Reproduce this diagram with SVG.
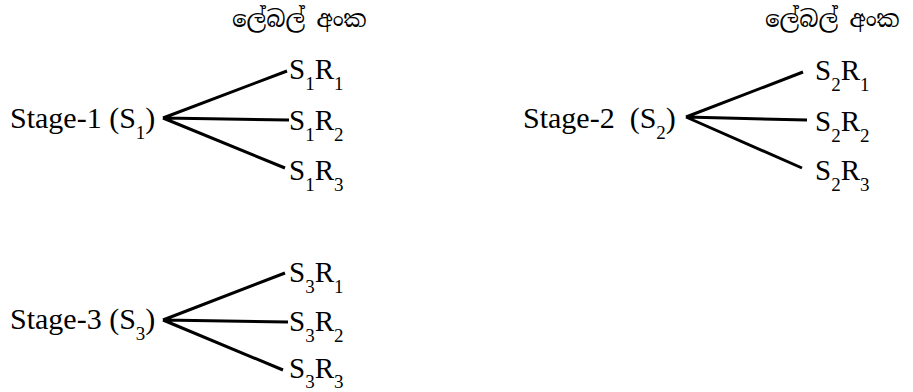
<svg xmlns="http://www.w3.org/2000/svg" width="913" height="392" viewBox="0 0 913 392">
<style>
.t{font-family:'Liberation Serif','Times New Roman',serif;font-size:30px;fill:#000}
.l{font-family:'Liberation Serif','Times New Roman',serif;font-size:29px;fill:#000}
.sub{font-size:19px}
.si{font-family:'Noto Serif Sinhala','Noto Sans Sinhala','Iskoola Pota',serif;font-size:23px;fill:#000}
.c{stroke:#000;stroke-width:3;fill:none;stroke-linecap:butt}
</style>
<rect width="913" height="392" fill="#fff"/>
<g id="header-1"><text class="si" x="232" y="27">ලේබල් අංක</text></g>
<g id="header-2"><text class="si" x="765" y="27">ලේබල් අංක</text></g>
<g id="stage-1"><text class="t" x="10" y="128">Stage-1 (S<tspan class="sub" dy="11">1</tspan><tspan dy="-11">)</tspan></text></g>
<g id="s1r1"><text class="l" x="289" y="79">S<tspan class="sub" dy="11">1</tspan><tspan dy="-11">R</tspan><tspan class="sub" dy="11">1</tspan></text></g>
<g id="s1r2"><text class="l" x="289" y="130">S<tspan class="sub" dy="11">1</tspan><tspan dy="-11">R</tspan><tspan class="sub" dy="11">2</tspan></text></g>
<g id="s1r3"><text class="l" x="289" y="180">S<tspan class="sub" dy="11">1</tspan><tspan dy="-11">R</tspan><tspan class="sub" dy="11">3</tspan></text></g>
<g id="stage-2"><text class="t" x="523" y="128" xml:space="preserve">Stage-2  (S<tspan class="sub" dy="11">2</tspan><tspan dy="-11">)</tspan></text></g>
<g id="s2r1"><text class="l" x="815" y="80">S<tspan class="sub" dy="11">2</tspan><tspan dy="-11">R</tspan><tspan class="sub" dy="11">1</tspan></text></g>
<g id="s2r2"><text class="l" x="815" y="131">S<tspan class="sub" dy="11">2</tspan><tspan dy="-11">R</tspan><tspan class="sub" dy="11">2</tspan></text></g>
<g id="s2r3"><text class="l" x="815" y="180">S<tspan class="sub" dy="11">2</tspan><tspan dy="-11">R</tspan><tspan class="sub" dy="11">3</tspan></text></g>
<g id="stage-3"><text class="t" x="10" y="329">Stage-3 (S<tspan class="sub" dy="11">3</tspan><tspan dy="-11">)</tspan></text></g>
<g id="s3r1"><text class="l" x="289" y="282">S<tspan class="sub" dy="11">3</tspan><tspan dy="-11">R</tspan><tspan class="sub" dy="11">1</tspan></text></g>
<g id="s3r2"><text class="l" x="289" y="331">S<tspan class="sub" dy="11">3</tspan><tspan dy="-11">R</tspan><tspan class="sub" dy="11">2</tspan></text></g>
<g id="s3r3"><text class="l" x="289" y="378">S<tspan class="sub" dy="10">3</tspan><tspan dy="-10">R</tspan><tspan class="sub" dy="10">3</tspan></text></g>
<g id="connectors">
<path class="c" d="M163 118 L287 71 M163 118 L289 120 M163 118 L285 168"/>
<path class="c" d="M686 117 L803 72 M686 117 L807 120 M686 117 L802 168"/>
<path class="c" d="M163 320 L285 273 M163 320 L288 322 M163 320 L283 370"/>
</g>
</svg>
